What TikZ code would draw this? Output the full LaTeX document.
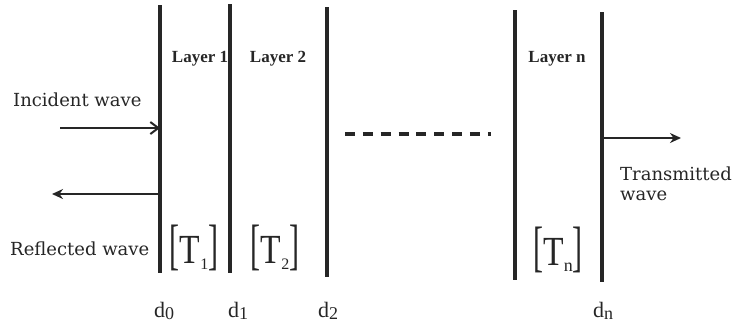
\documentclass[tikz,border=0pt]{standalone}
\usepackage{fontspec}
\usepackage{graphicx}
\setmainfont{Liberation Serif}
\newfontfamily\wavefont{DejaVu Serif}
\usetikzlibrary{arrows.meta}
\definecolor{ink}{HTML}{262626}
\newcommand{\tallbr}[1]{\scalebox{1}[1.85]{#1}}
\newcommand{\tallT}{\scalebox{1.12}[1.38]{T}}
\begin{document}
\begin{tikzpicture}[x=1pt,y=-1pt,
  wall/.style={draw=ink,line width=3.2pt},
  wavearrow/.style={draw=ink,line width=2pt},
  wavelabel/.style={anchor=base west,inner sep=0pt,text=ink,font=\wavefont\fontsize{18}{20}\selectfont},
  layerlabel/.style={anchor=base,inner sep=0pt,text=ink,font=\fontsize{17}{17}\selectfont\bfseries},
  matlabel/.style={anchor=base,inner sep=0pt,text=ink,font=\fontsize{30}{30}\selectfont},
  dlabel/.style={anchor=base,inner sep=0pt,text=ink,font=\fontsize{22}{22}\selectfont}]
\useasboundingbox[fill=white] (0,0) rectangle (734,322);
% interfaces
\coordinate (t0) at (160,5);   \coordinate (b0) at (160,273);
\coordinate (t1) at (230,4);   \coordinate (b1) at (230,273);
\coordinate (t2) at (327,7);   \coordinate (b2) at (327,277);
\coordinate (t3) at (515,10);  \coordinate (b3) at (515,280);
\coordinate (t4) at (602,12);  \coordinate (b4) at (602,282);
\draw[wall] (t0) -- (b0);
\draw[wall] (t1) -- (b1);
\draw[wall] (t2) -- (b2);
\draw[wall] (t3) -- (b3);
\draw[wall] (t4) -- (b4);
% waves
\coordinate (incS) at (60,128);  \coordinate (incE) at (160,128);
\coordinate (refS) at (160,194); \coordinate (refE) at (52,194);
\coordinate (traS) at (602,138); \coordinate (traE) at (681,138);
\draw[wavearrow,-{Straight Barb[length=8pt,width=12pt,line width=2pt]}] (incS) -- (incE);
\draw[wavearrow,-{Stealth[length=11pt,width=10pt]}] (refS) -- (refE);
\draw[wavearrow,-{Stealth[length=11pt,width=10pt]}] (traS) -- (traE);
% dashed continuation
\coordinate (dashS) at (345,134); \coordinate (dashE) at (491,134);
\draw[draw=ink,line width=3.4pt,dash pattern=on 10pt off 7.85pt] (dashS) -- (dashE);
% labels
\node[wavelabel] (inc) at (13,106) {Incident wave};
\node[wavelabel] (ref) at (10,255) {Reflected wave};
\node[wavelabel] (tra) at (620,180) {Transmitted};
\node[wavelabel] (tra2) at (620,200) {wave};
\node[layerlabel] (L1) at (200,62) {Layer 1};
\node[layerlabel] (L2) at (278,62) {Layer 2};
\node[layerlabel] (Ln) at (557,62) {Layer n};
\node[matlabel] (T1) at (194,263) {\tallbr{[}\tallT\raisebox{-6pt}{\fontsize{16}{16}\selectfont 1}\tallbr{]}};
\node[matlabel] (T2) at (275,263) {\tallbr{[}\tallT\raisebox{-6pt}{\fontsize{16}{16}\selectfont 2}\tallbr{]}};
\node[matlabel] (Tn) at (558,265) {\tallbr{[}\tallT\raisebox{-6pt}{\fontsize{18}{18}\selectfont n}\tallbr{]}};
\node[dlabel] (d0) at (164,317) {d\raisebox{-2pt}{\fontsize{18}{18}\selectfont 0}};
\node[dlabel] (d1) at (238,317) {d\raisebox{-2pt}{\fontsize{18}{18}\selectfont 1}};
\node[dlabel] (d2) at (328,317) {d\raisebox{-2pt}{\fontsize{18}{18}\selectfont 2}};
\node[dlabel] (dn) at (603,317) {d\raisebox{-2pt}{\fontsize{18}{18}\selectfont n}};
\end{tikzpicture}
\end{document}
